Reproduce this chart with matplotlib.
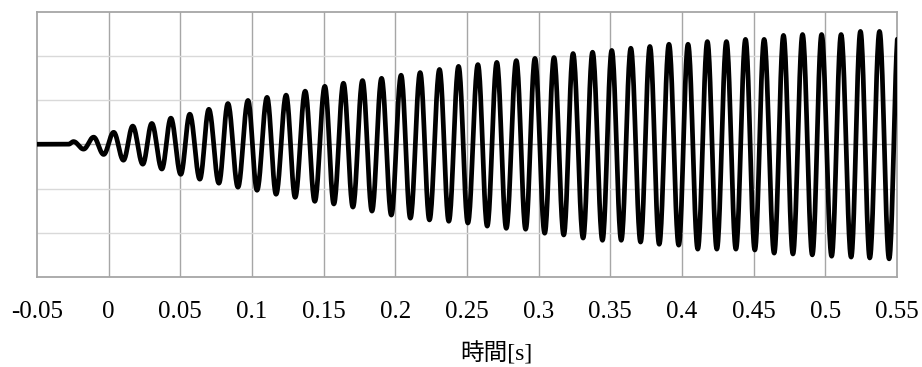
import numpy as np
import matplotlib
matplotlib.use("Agg")
import matplotlib.pyplot as plt

# --- datos (tiempo [s], valor) ---
# tramo inicial plano
inicio_t = [-0.05, -0.028]
inicio_v = [0.0, 0.0]

# crestas (maximos)
cresta_t = [-0.0245, -0.0105, 0.0035, 0.0168, 0.0301, 0.0434, 0.0566, 0.0699,
            0.0832, 0.0972, 0.1105, 0.1238, 0.1371, 0.1508, 0.1638, 0.1771,
            0.1904, 0.2040, 0.2173, 0.2308, 0.2441, 0.2576, 0.2708, 0.2844,
            0.2974, 0.3107, 0.3240, 0.3376, 0.3510, 0.3643, 0.3776, 0.3909,
            0.4042, 0.4177, 0.4310, 0.4443, 0.4573, 0.4708, 0.4841, 0.4974,
            0.5110, 0.5245, 0.5378, 0.5510]
cresta_v = [0.06, 0.16, 0.27, 0.41, 0.47, 0.59, 0.68, 0.79,
            0.92, 0.99, 1.06, 1.11, 1.20, 1.31, 1.38, 1.44,
            1.49, 1.56, 1.62, 1.69, 1.76, 1.80, 1.85, 1.89,
            1.94, 1.96, 2.05, 2.08, 2.12, 2.17, 2.21, 2.26,
            2.26, 2.32, 2.32, 2.37, 2.37, 2.46, 2.48, 2.48,
            2.48, 2.55, 2.55, 2.57]

# valles (minimos)
valle_t = [-0.0175, -0.0035, 0.0103, 0.0238, 0.0371, 0.0503, 0.0636, 0.0769,
           0.0902, 0.1035, 0.1168, 0.1301, 0.1438, 0.1571, 0.1704, 0.1837,
           0.1972, 0.2105, 0.2238, 0.2373, 0.2506, 0.2641, 0.2774, 0.2909,
           0.3042, 0.3175, 0.3310, 0.3445, 0.3576, 0.3711, 0.3841, 0.3977,
           0.4110, 0.4243, 0.4376, 0.4508, 0.4643, 0.4774, 0.4909, 0.5044,
           0.5180, 0.5310, 0.5445]
valle_v = [-0.11, -0.23, -0.36, -0.45, -0.56, -0.68, -0.79, -0.88,
           -0.97, -1.04, -1.13, -1.20, -1.29, -1.35, -1.42, -1.51,
           -1.60, -1.67, -1.71, -1.74, -1.78, -1.85, -1.90, -1.92,
           -2.01, -2.05, -2.12, -2.17, -2.17, -2.21, -2.26, -2.28,
           -2.37, -2.37, -2.37, -2.39, -2.46, -2.48, -2.50, -2.53,
           -2.55, -2.57, -2.59]

ticks_x = [-0.05, 0, 0.05, 0.1, 0.15, 0.2, 0.25, 0.3, 0.35, 0.4, 0.45, 0.5, 0.55]
ticks_txt = ["-0.05", "0", "0.05", "0.1", "0.15", "0.2", "0.25", "0.3",
             "0.35", "0.4", "0.45", "0.5", "0.55"]


def curva_suave(t_ext, v_ext, n=24):
    """Une extremos consecutivos con medio coseno (forma de onda)."""
    orden = np.argsort(t_ext)
    t_ext = np.asarray(t_ext)[orden]
    v_ext = np.asarray(v_ext)[orden]
    ts, vs = [], []
    s = np.linspace(0, 1, n, endpoint=False)
    for i in range(len(t_ext) - 1):
        w = (1 - np.cos(np.pi * s)) / 2
        ts.append(t_ext[i] + (t_ext[i + 1] - t_ext[i]) * s)
        vs.append(v_ext[i] + (v_ext[i + 1] - v_ext[i]) * w)
    ts.append([t_ext[-1]])
    vs.append([v_ext[-1]])
    return np.concatenate(ts), np.concatenate(vs)


t_all = inicio_t + cresta_t + valle_t
v_all = inicio_v + cresta_v + valle_v
t, v = curva_suave(t_all, v_all)

fig = plt.figure(figsize=(9.22, 3.67), dpi=100)
ax = fig.add_axes([37 / 922, 1 - 277 / 367, 860 / 922, 265.5 / 367])

ax.set_xlim(-0.05, 0.55)
ax.set_ylim(-3, 3)

# rejilla
for x in ticks_x[1:-1]:
    ax.axvline(x, color="#a6a6a6", lw=1.0, zorder=1)
for y in [-2, -1, 1, 2]:
    ax.axhline(y, color="#d9d9d9", lw=1.0, zorder=1)
ax.axhline(0, color="#a6a6a6", lw=1.0, zorder=1)

ax.plot(t, v, color="black", lw=3.4, solid_capstyle="round", zorder=3)

for sp in ax.spines.values():
    sp.set_color("#a6a6a6")
    sp.set_linewidth(1.3)

ax.set_yticks([])
ax.set_xticks(ticks_x)
ax.set_xticklabels(ticks_txt, family="Liberation Serif", fontsize=18)
ax.tick_params(axis="x", length=0, pad=17)

fig.text(496 / 922, 1 - 354 / 367, "時間[s]", ha="center", va="center",
         fontsize=17, family=["Liberation Serif", "Noto Sans CJK JP"])

fig.savefig("out.png", dpi=100)
